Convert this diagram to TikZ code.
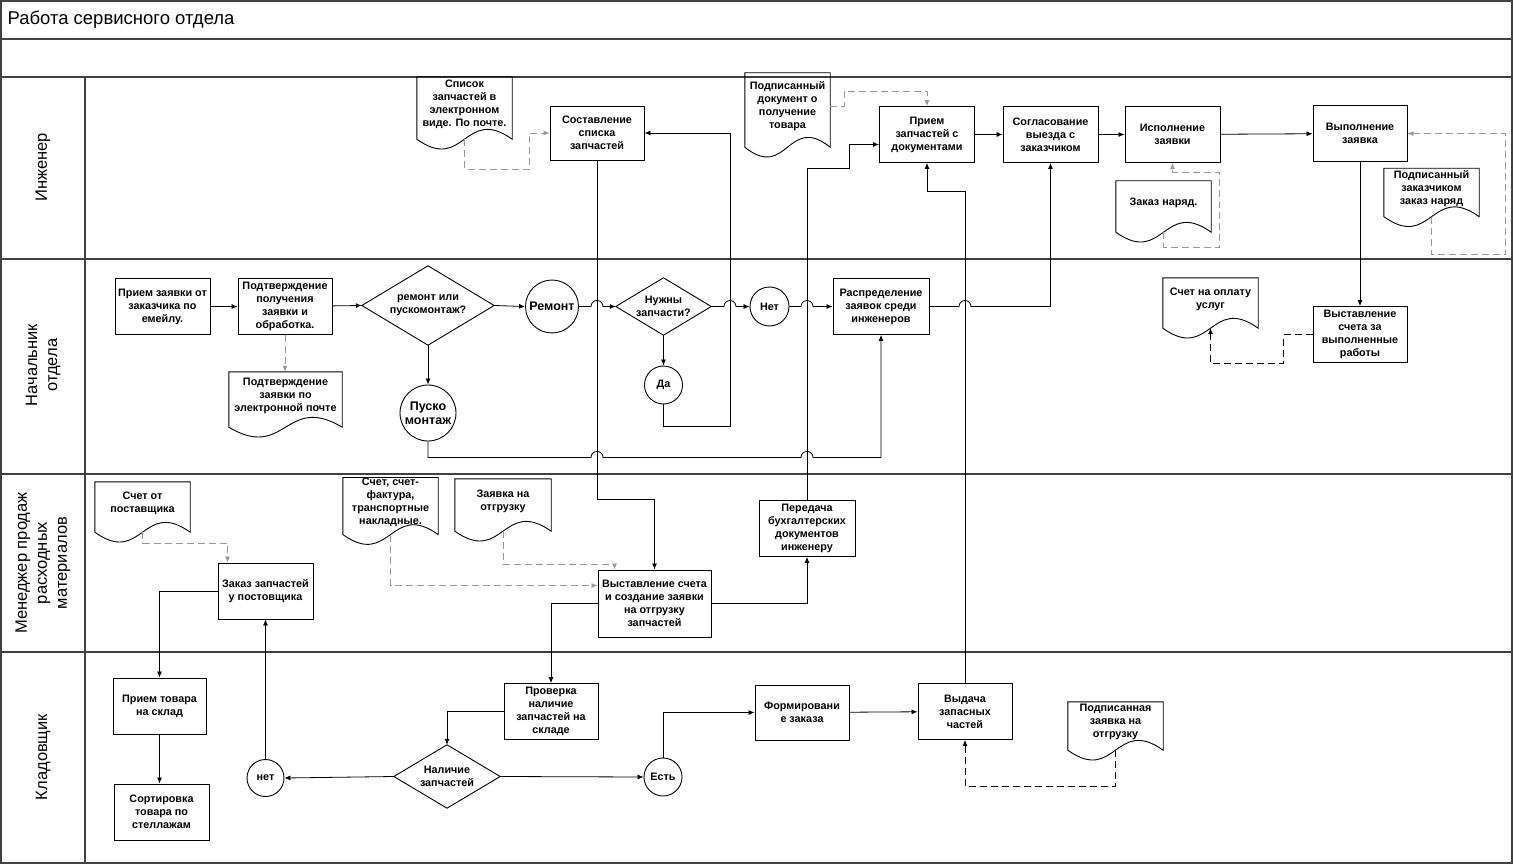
\documentclass[tikz,border=0pt]{standalone}
\usepackage{fontspec}
\setmainfont{Liberation Sans}
\usepackage{tikz}
\usetikzlibrary{arrows.meta,calc}

\begin{document}
\begin{tikzpicture}[
    x=1pt, y=-1pt,
    box/.style={rectangle, draw, line width=0.9pt, minimum width=95, minimum height=56,
                inner sep=1pt, align=center, font=\bfseries\fontsize{10.8}{13}\selectfont},
    doc/.style={rectangle, minimum width=95, inner sep=0pt, align=center,
                font=\bfseries\fontsize{10.8}{13}\selectfont},
    dia/.style={rectangle, inner sep=0pt, align=center, font=\bfseries\fontsize{10.8}{13}\selectfont},
    circ/.style={circle, draw, line width=0.9pt, inner sep=0pt, align=center,
                 font=\bfseries\fontsize{10.8}{13}\selectfont},
    big/.style={font=\bfseries\fontsize{12.5}{14}\selectfont},
    shp/.style={line width=0.9pt},
    arr/.style={-{Latex[length=6pt,width=5pt]}, line width=0.8pt},
    gdash/.style={arr, draw=black!40, dash pattern=on 7pt off 4pt},
    bdash/.style={arr, dash pattern=on 7pt off 4pt},
    lane/.style={line width=1.4pt, draw=black!75},
    lanelbl/.style={rotate=90, align=center, font=\fontsize{16.5}{20}\selectfont},
  ]
  \useasboundingbox (-1,-1) rectangle (1512,863);

  % Frame and lanes
  \draw[lane] (0,0) rectangle (1511,862);
  \foreach \y in {38,76,258,473,651} \draw[lane] (0,\y) -- (1511,\y);
  \draw[lane] (84,76) -- (84,862);
  \node[anchor=west, font=\fontsize{18.5}{22}\selectfont] (title) at (3,19) {Работа сервисного отдела};
  \node[lanelbl] (l1) at (42,166.5) {Инженер};
  \node[lanelbl] (l2) at (42,364) {Начальник\\отдела};
  \node[lanelbl] (l3) at (42,562) {Менеджер продаж\\расходных\\материалов};
  \node[lanelbl] (l4) at (42,756) {Кладовщик};

  % Engineer
  \node[doc, minimum height=54] (lst) at (463.5,103) {Список\\запчастей в\\электронном\\виде. По почте.};
  \node[box, minimum width=94, minimum height=54] (sost) at (596,132) {Составление\\списка\\запчастей};
  \node[doc, minimum width=85, minimum height=66] (sig) at (786.5,105) {Подписанный\\документ о\\получение\\товара};
  \node[box] (pri) at (926,133.5) {Прием\\запчастей с\\документами};
  \node[box] (sogl) at (1049.5,133.5) {Согласование\\выезда с\\заказчиком};
  \node[box] (isp) at (1171.5,133.5) {Исполнение\\заявки};
  \node[box, minimum width=94] (vyp) at (1359,132.5) {Выполнение\\заявка};
  \node[doc, minimum height=43] (naryad) at (1162.5,201.5) {Заказ наряд.};
  \node[doc, minimum height=40] (podz) at (1430.5,187.5) {Подписанный\\заказчиком\\заказ наряд};

  % Head of department
  \node[box] (zayav) at (161.5,305.5) {Прием заявки от\\заказчика по\\емейлу.};
  \node[box, minimum width=94] (podtv) at (284,305.5) {Подтверждение\\получения\\заявки и\\обработка.};
  \node[dia, minimum width=132, minimum height=79] (remq) at (427,304.5) {ремонт или\\пускомонтаж?};
  \node[doc, minimum width=113, minimum height=47] (podtvd) at (284.5,394.5) {Подтверждение\\заявки по\\электронной почте};
  \node[circ, big, minimum size=56] (pusk) at (427,412) {Пуско\\монтаж};
  \node[circ, big, minimum size=53] (remont) at (551,305.5) {Ремонт};
  \node[dia, minimum width=95, minimum height=57] (need) at (662.5,305.5) {Нужны\\запчасти?};
  \node[circ, minimum size=39] (net) at (768.5,305.5) {Нет};
  \node[circ, minimum size=38] (da) at (662.5,384) {Да};
  \node[box, minimum width=96] (raspr) at (880,305.5) {Распределение\\заявок среди\\инженеров};
  \node[doc, minimum height=42] (schet) at (1209.5,298) {Счет на оплату\\услуг};
  \node[box, minimum width=94] (vyst) at (1359,333.5) {Выставление\\счета за\\выполненные\\работы};

  % Sales manager
  \node[doc, minimum height=42] (post) at (141.5,502) {Счет от\\поставщика};
  \node[box] (zak) at (264.5,590) {Заказ запчастей\\у постовщика};
  \node[doc, minimum height=48] (schf) at (389.5,501) {Счет, счет-\\фактура,\\транспортные\\накладные.};
  \node[doc, minimum width=96, minimum height=44] (otgr) at (502,500) {Заявка на\\отгрузку};
  \node[box, minimum width=113, minimum height=67] (vystz) at (653.5,602.5) {Выставление счета\\и создание заявки\\на отгрузку\\запчастей};
  \node[box, minimum width=96] (pered) at (806,527.5) {Передача\\бухгалтерских\\документов\\инженеру};

  % Storekeeper
  \node[box, minimum width=93] (prit) at (158.5,705) {Прием товара\\на склад};
  \node[box] (sort) at (160.5,811) {Сортировка\\товара по\\стеллажам};
  \node[circ, minimum size=37] (net2) at (264.5,777) {нет};
  \node[dia, minimum width=106, minimum height=63] (nal) at (446,775.5) {Наличие\\запчастей};
  \node[box, minimum width=94] (prov) at (550,710.5) {Проверка\\наличие\\запчастей на\\складе};
  \node[circ, minimum size=38] (est) at (662,776) {Есть};
  \node[box, minimum width=94, minimum height=55] (form) at (801,711.5) {Формировани\\е заказа};
  \node[box, minimum width=94] (vyd) at (964,710.5) {Выдача\\запасных\\частей};
  \node[doc, minimum height=40] (podp) at (1114.5,721) {Подписанная\\заявка на\\отгрузку};

  % Document and decision outlines
  \foreach \d in {lst,sig,naryad,podz,podtvd,schet,post,schf,otgr,podp}{
    \draw[shp] (\d.north west) -- ($(\d.south west)+(0,8)$)
      .. controls ($(\d.south)+(0,42)$) and ($(\d.south)+(0,-26)$) .. ($(\d.south east)+(0,8)$)
      -- (\d.north east) -- cycle;
    \coordinate (\d-b) at ($(\d.south)+(0,8)$);
  }
  \foreach \d in {remq,need,nal} \draw[shp] (\d.north) -- (\d.east) -- (\d.south) -- (\d.west) -- cycle;

  % Arrows, engineer
  \draw[gdash] (lst-b) -- ++(0,30) -- ++(64.5,0) |- (sost.west);
  \draw[gdash] (sig.east) -- ++(14,0) |- ($(pri.north)+(0,-15)$) -- (pri.north);
  \draw[arr] (pri) -- (sogl);
  \draw[arr] (sogl) -- (isp);
  \draw[arr] (isp) -- (vyp);
  \draw[gdash] (naryad-b) -- ++(0,15) -| ($(isp.south)+(46.5,9)$) -| (isp.south);
  \draw[gdash] (podz-b) -- ++(0,38) -| ($(vyp.east)+(98,0)$) -- (vyp.east);
  \draw[arr] (vyp) -- (vyst);

  % Arrows, head of department
  \draw[arr] (zayav) -- (podtv);
  \draw[arr] (podtv) -- (remq.west);
  \draw[gdash] (podtv.south) -- (podtv.south |- podtvd.north);
  \draw[arr] (remq.south) -- (pusk.north);
  \draw[arr] (remq.east) -- (remont.west);
  \draw[arr] (need.south) -- (da.north);
  \draw[arr] (da.south) -- ++(0,22) -- ++(66.5,0) coordinate (dc) |- (sost.east);
  \draw[arr] (remont.east) -- ($(sost.south |- remont.east)+(-6,0)$)
    arc[start angle=180, end angle=0, radius=6pt] -- (need.west);
  \draw[arr] (need.east) -- ($(dc |- need.east)+(-6,0)$)
    arc[start angle=180, end angle=0, radius=6pt] -- (net.west);
  \draw[arr] (net.east) -- ($(pered.north |- net.east)+(-6,0)$)
    arc[start angle=180, end angle=0, radius=6pt] -- (raspr.west);
  \draw[arr] (raspr.east) -- ($(vyd.north |- raspr.east)+(-6,0)$)
    arc[start angle=180, end angle=0, radius=6pt] -| (sogl.south);
  \draw[arr] (pusk.south) -- ++(0,16) coordinate (pk) -- ($(pk -| sost.south)+(-6,0)$)
    arc[start angle=180, end angle=0, radius=6pt] -- ($(pk -| pered.north)+(-6,0)$)
    arc[start angle=180, end angle=0, radius=6pt] -| (raspr.south);
  \draw[bdash] (vyst.west) -- ++(-29,0) |- ($(schet-b)+(0,35)$) -- (schet-b);

  % Arrows, sales manager
  \draw[arr] (sost.south) |- ($(vystz.north)+(0,-70)$) -- (vystz.north);
  \draw[gdash] (post-b) -- ++(0,11) -| ($(zak.north west)+(10,0)$);
  \draw[gdash] (schf-b) |- ($(vystz.west)+(0,-18)$);
  \draw[gdash] (otgr-b) -- ++(0,33) -| ($(vystz.north west)+(17,0)$);
  \draw[arr] (vystz.east) -| (pered.south);
  \draw[arr] (pered.north) -- ($(pered.north |- pri.south)+(0,5)$) -- ++(42,0) |- ($(pri.west)+(0,10)$);
  \draw[arr] (vystz.west) -| (prov.north);
  \draw[arr] (zak.west) -| (prit.north);

  % Arrows, storekeeper
  \draw[arr] (prit.south) -- (prit.south |- sort.north);
  \draw[arr] (net2.north) -- (net2.north |- zak.south);
  \draw[arr] (nal.west) -- (net2.east);
  \draw[arr] (prov.west) -| (nal.north);
  \draw[arr] (nal.east) -- (est.west);
  \draw[arr] (est.north) |- (form.west);
  \draw[arr] (form) -- (vyd);
  \draw[arr] (vyd.north) |- ($(pri.south)+(0,28)$) -- (pri.south);
  \draw[bdash] (podp-b) -- ++(0,36) -| (vyd.south);

\end{tikzpicture}
\end{document}
